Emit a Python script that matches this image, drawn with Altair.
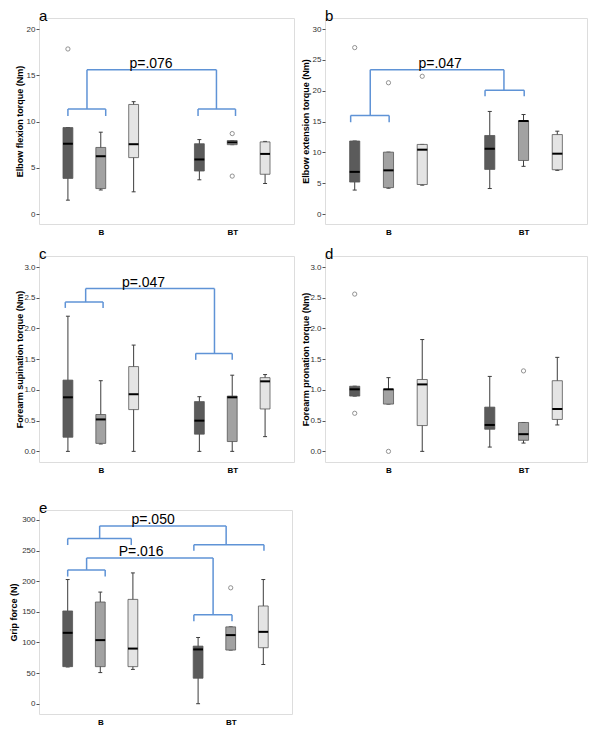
import altair as alt
import pandas as pd

FONT = "Liberation Sans"

# positions of the six boxes (3 per group) and their fill style
POS = [1, 2, 3, 5, 6, 7]
STYLE = ["s1", "s2", "s3", "s1", "s2", "s3"]
CATS = ["B", "BT"]

# ---- panel a: Elbow flexion torque (Nm)
a_low = [1.5, 2.6, 2.4, 3.7, 7.5, 3.3]
a_q1 = [3.85, 2.75, 6.1, 4.65, 7.5, 4.3]
a_med = [7.6, 6.25, 7.55, 5.9, 7.75, 6.5]
a_q3 = [9.35, 7.2, 11.85, 7.6, 7.95, 7.8]
a_high = [9.35, 8.85, 12.15, 8.05, 7.95, 7.85]
a_out_pos = [1, 6, 6]
a_out_val = [17.85, 8.7, 4.1]

# ---- panel b: Elbow extension torque (Nm)
b_low = [3.9, 4.2, 4.7, 4.15, 7.75, 7.1]
b_q1 = [5.2, 4.3, 4.8, 7.25, 8.7, 7.2]
b_med = [6.85, 7.1, 10.45, 10.6, 15.1, 9.8]
b_q3 = [11.85, 10.05, 11.3, 12.75, 15.1, 12.9]
b_high = [11.85, 10.05, 11.3, 16.65, 16.15, 13.45]
b_out_pos = [1, 2, 3]
b_out_val = [27.0, 21.3, 22.35]

# ---- panel c: Forearm supination torque (Nm)
c_low = [0.0, 0.12, 0.0, 0.0, 0.0, 0.24]
c_q1 = [0.23, 0.13, 0.68, 0.28, 0.16, 0.69]
c_med = [0.88, 0.52, 0.93, 0.50, 0.88, 1.14]
c_q3 = [1.16, 0.60, 1.38, 0.81, 0.90, 1.20]
c_high = [2.2, 1.15, 1.73, 0.89, 1.24, 1.25]
c_out_pos = []
c_out_val = []

# ---- panel d: Forearm pronation torque (Nm)
d_low = [0.90, 0.77, 0.0, 0.07, 0.135, 0.43]
d_q1 = [0.90, 0.77, 0.42, 0.36, 0.18, 0.52]
d_med = [1.01, 1.01, 1.09, 0.43, 0.28, 0.69]
d_q3 = [1.06, 1.01, 1.17, 0.72, 0.47, 1.15]
d_high = [1.06, 1.20, 1.82, 1.22, 0.47, 1.53]
d_out_pos = [1, 1, 2, 6]
d_out_val = [2.56, 0.62, 0.0, 1.31]

# ---- panel e: Grip force (N)
e_low = [60.0, 50.8, 56.0, 0.0, 87.6, 64.0]
e_q1 = [60.5, 60.5, 60.5, 41.6, 87.6, 91.4]
e_med = [115.7, 103.8, 90.0, 88.6, 112.0, 117.3]
e_q3 = [151.4, 166.0, 170.3, 94.0, 125.4, 159.5]
e_high = [202.7, 182.2, 213.5, 108.1, 125.4, 202.7]
e_out_pos = [6]
e_out_val = [189.2]

# significance brackets: lower = (x_left, x_right, y, y_end), top = (x_left, x_right, y, y_left_end, y_right_end)
a_lower = [(1.0, 2.15, 11.35, 10.6), (4.96, 6.10, 11.35, 10.6)]
a_top = [(1.58, 5.52, 15.6, 11.35, 11.35)]
a_text = [(3.53, 15.6, "p=.076")]

b_lower = [(0.88, 2.02, 16.0, 14.9), (4.86, 6.02, 20.1, 19.1)]
b_top = [(1.46, 5.42, 23.4, 16.0, 20.1)]
b_text = [(3.53, 23.4, "p=.047")]

c_lower = [(0.92, 2.07, 2.43, 2.335), (4.89, 6.0, 1.595, 1.49)]
c_top = [(1.54, 5.46, 2.65, 2.43, 1.595)]
c_text = [(3.3, 2.65, "p=.047")]

e_lower = [(1.0, 2.95, 269.7, 259.0), (4.87, 7.02, 259.4, 249.7),
           (1.0, 2.15, 218.4, 207.6), (4.87, 6.04, 145.4, 134.6)]
e_top = [(1.98, 5.86, 290.2, 269.7, 259.4), (1.58, 5.46, 237.9, 218.4, 145.4)]
e_text = [(3.62, 290.2, "p=.050"), (3.25, 237.9, "P=.016")]

BW = 0.15   # half box width (x units)
CW = 0.06   # half cap width
XDOM = [0.12, 7.88]
FILLS = ["#5b5b5b", "#a2a2a2", "#e4e4e4"]
BLUE = "#5f93d6"


def panel(letter, ytitle, ydom, yvals, yfmt, low, q1, med, q3, high,
          out_pos, out_val, lower, top, texts, width, height, extent):
    df = pd.DataFrame({"pos": POS, "s": STYLE, "low": low, "q1": q1,
                       "med": med, "q3": q3, "high": high})
    df["xl"] = df["pos"] - BW
    df["xr"] = df["pos"] + BW
    df["cl"] = df["pos"] - CW
    df["cr"] = df["pos"] + CW

    xs = alt.Scale(domain=XDOM, nice=False, zero=False)
    ys = alt.Scale(domain=ydom, nice=False, zero=False)
    xax = alt.Axis(values=[2, 6], labelExpr="datum.value == 2 ? 'B' : 'BT'",
                   title=None, ticks=False, domain=False, grid=False,
                   labelFont=FONT, labelFontSize=8, labelFontWeight="bold",
                   labelColor="black", labelPadding=4)
    yax = alt.Axis(values=yvals, format=yfmt, title=ytitle, grid=False, domain=False,
                   titleFont=FONT, titleFontSize=9, titleFontWeight="bold",
                   titleColor="black", labelFont=FONT, labelFontSize=8,
                   labelColor="#333333", tickSize=3, tickColor="#555555",
                   labelPadding=1, titlePadding=1, minExtent=extent, maxExtent=extent)

    def X(f):
        return alt.X(f, type="quantitative", scale=xs, axis=xax)

    def Y(f):
        return alt.Y(f, type="quantitative", scale=ys, axis=yax)

    base = alt.Chart(df)
    whisk = base.mark_rule(color="#3c3c3c", strokeWidth=1).encode(
        x=X("pos"), y=Y("low"), y2="high")
    cap_lo = base.mark_rule(color="#3c3c3c", strokeWidth=1).encode(
        x=X("cl"), x2="cr", y=Y("low"))
    cap_hi = base.mark_rule(color="#3c3c3c", strokeWidth=1).encode(
        x=X("cl"), x2="cr", y=Y("high"))
    box = base.mark_rect(stroke="#555555", strokeWidth=0.8).encode(
        x=X("xl"), x2="xr", y=Y("q1"), y2="q3",
        color=alt.Color("s:N", scale=alt.Scale(domain=["s1", "s2", "s3"], range=FILLS),
                        legend=None))
    medl = base.mark_rule(color="black", strokeWidth=2).encode(
        x=X("xl"), x2="xr", y=Y("med"))
    layers = [whisk, cap_lo, cap_hi, box, medl]

    if out_pos:
        odf = pd.DataFrame({"pos": out_pos, "v": out_val})
        layers.append(alt.Chart(odf).mark_point(shape="circle", filled=False, size=18,
                                                color="#555555", strokeWidth=0.9).encode(
            x=X("pos"), y=Y("v")))

    segs = []
    for xl, xr, y, yd in lower:
        segs += [(xl, y, xr, y), (xl, y, xl, yd), (xr, y, xr, yd)]
    for xl, xr, y, yle, yre in top:
        segs += [(xl, y, xr, y), (xl, y, xl, yle), (xr, y, xr, yre)]
    if segs:
        sdf = pd.DataFrame(segs, columns=["x1", "y1", "x2", "y2"])
        layers.append(alt.Chart(sdf).mark_rule(color=BLUE, strokeWidth=1.5).encode(
            x=X("x1"), y=Y("y1"), x2="x2", y2="y2"))
    if texts:
        tdf = pd.DataFrame(texts, columns=["x", "y", "t"])
        layers.append(alt.Chart(tdf).mark_text(font=FONT, fontSize=14, color="black",
                                               baseline="alphabetic", dy=-2).encode(
            x=X("x"), y=Y("y"), text="t:N"))

    return alt.layer(*layers).properties(
        width=width, height=height,
        title=alt.TitleParams(letter, anchor="start", frame="group", font=FONT,
                              fontSize=15, fontWeight="normal", color="black", offset=-6))


pa = panel("a", "Elbow flexion torque (Nm)", [-1.08, 21.2], [0, 5, 10, 15, 20], "d",
           a_low, a_q1, a_med, a_q3, a_high, a_out_pos, a_out_val, a_lower, a_top, a_text,
           255, 206, 14)
pb = panel("b", "Elbow extension torque (Nm)", [-1.6, 31.8], [0, 5, 10, 15, 20, 25, 30], "d",
           b_low, b_q1, b_med, b_q3, b_high, b_out_pos, b_out_val, b_lower, b_top, b_text,
           262, 206, 14)
pc = panel("c", "Forearm supination torque (Nm)", [-0.173, 3.18], [0, 0.5, 1, 1.5, 2, 2.5, 3], ".1f",
           c_low, c_q1, c_med, c_q3, c_high, c_out_pos, c_out_val, c_lower, c_top, c_text,
           255, 206, 14)
pd_ = panel("d", "Forearm pronation torque (Nm)", [-0.173, 3.18], [0, 0.5, 1, 1.5, 2, 2.5, 3], ".1f",
            d_low, d_q1, d_med, d_q3, d_high, d_out_pos, d_out_val, [], [], [],
            262, 206, 14)
pe = panel("e", "Grip force (N)", [-16.8, 316.2], [0, 50, 100, 150, 200, 250, 300], "d",
           e_low, e_q1, e_med, e_q3, e_high, e_out_pos, e_out_val, e_lower, e_top, e_text,
           253, 204, 20)

row1 = alt.hconcat(pa, pb, spacing=5)
row2 = alt.hconcat(pc, pd_, spacing=5)
chart = alt.vconcat(alt.vconcat(row1, row2, spacing=9), pe, spacing=25).properties(
    padding={"left": 0, "top": 0, "right": 0, "bottom": 0}
).configure_view(stroke="#808080", strokeWidth=1).configure(background="white")

chart.save("out.html", embed_options={"renderer": "svg", "actions": False})
